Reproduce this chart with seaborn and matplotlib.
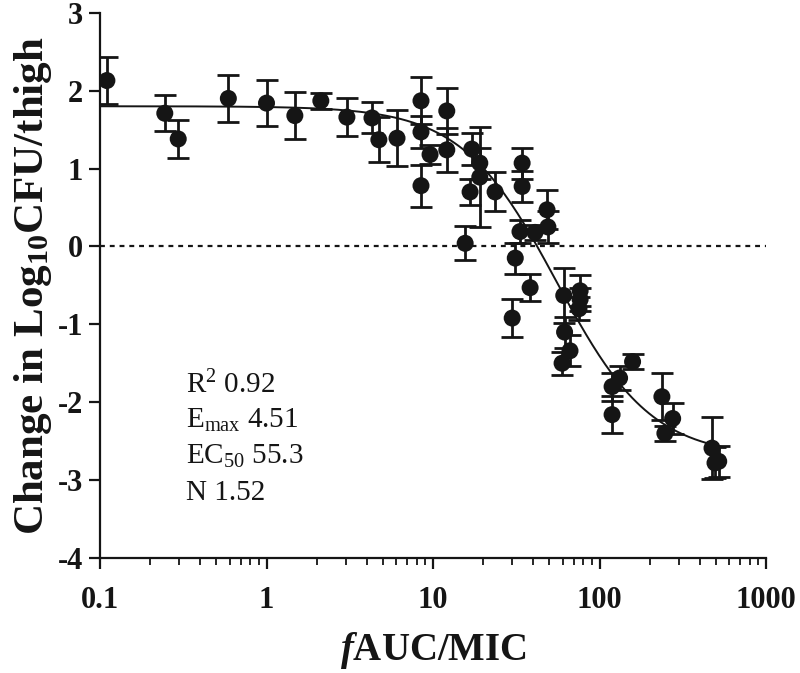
import numpy as np
import pandas as pd
import matplotlib
matplotlib.use('Agg')
import matplotlib.pyplot as plt
import seaborn as sns

# exposure (fAUC/MIC) and change in log10 CFU/thigh
fauc_mic = [0.11, 0.245, 0.295, 0.59, 1.0, 1.48, 2.12, 3.04, 4.3, 4.73,
            6.08, 8.47, 8.47, 8.47, 9.6, 12.1, 12.1, 15.6, 17.1, 16.7,
            19.1, 19.1, 23.6, 29.9, 31.2, 33.3, 34.3, 34.3, 38.3, 41,
            48.4, 49, 61, 61.7, 59.6, 66.5, 75.3, 76.5, 76.5, 119,
            132, 158, 119, 237, 247, 275, 474, 494, 520]
delta_cfu = [2.13, 1.71, 1.38, 1.90, 1.84, 1.68, 1.87, 1.66, 1.65, 1.37,
             1.39, 1.87, 1.47, 0.78, 1.18, 1.74, 1.24, 0.04, 1.25, 0.70,
             1.07, 0.89, 0.70, -0.92, -0.15, 0.19, 1.07, 0.77, -0.53, 0.18,
             0.47, 0.25, -0.63, -1.10, -1.50, -1.34, -0.80, -0.57, -0.68, -1.80,
             -1.69, -1.48, -2.16, -1.93, -2.40, -2.21, -2.59, -2.78, -2.76]
sd = [0.30, 0.23, 0.24, 0.30, 0.30, 0.30, 0.10, 0.24, 0.20, 0.29,
      0.36, 0.30, 0.20, 0.27, 0.12, 0.30, 0.28, 0.22, 0.20, 0.17,
      0.20, 0.64, 0.25, 0.24, 0.20, 0.15, 0.20, 0.20, 0.17, 0.10,
      0.25, 0.20, 0.35, 0.20, 0.15, 0.20, 0.15, 0.20, 0.15, 0.18,
      0.15, 0.10, 0.24, 0.30, 0.10, 0.20, 0.40, 0.20, 0.20]

# sigmoid Emax model parameters
e0 = 1.80
emax = 4.51
ec50 = 55.3
hill = 1.52

df = pd.DataFrame({'x': fauc_mic, 'y': delta_cfu, 'sd': sd})
xfit = np.logspace(-1, np.log10(560), 300)
fit = pd.DataFrame({'x': xfit,
                    'y': e0 - emax * xfit**hill / (ec50**hill + xfit**hill)})

sns.set_style('ticks')
plt.rcParams['font.family'] = ['Liberation Serif', 'DejaVu Serif']
plt.rcParams['axes.unicode_minus'] = False
plt.rcParams['mathtext.fontset'] = 'custom'
plt.rcParams['mathtext.rm'] = 'Liberation Serif'
plt.rcParams['mathtext.bf'] = 'Liberation Serif:bold'
plt.rcParams['mathtext.it'] = 'Liberation Serif:italic:bold'

ink = '#151515'
fig = plt.figure(figsize=(8, 6.73), dpi=100)
ax = fig.add_axes([0.125, 0.171, 0.8325, 0.81])

ax.axhline(0, color=ink, lw=1.6, ls=(0, (2.2, 2.2)), zorder=1)
ax.errorbar(df['x'], df['y'], yerr=df['sd'], fmt='none', ecolor=ink,
            elinewidth=2, capsize=8, capthick=2, zorder=2)
sns.lineplot(data=fit, x='x', y='y', color=ink, lw=1.4, ax=ax, zorder=3)
sns.scatterplot(data=df, x='x', y='y', color=ink, s=150, edgecolor='none',
                ax=ax, zorder=4)

ax.set_xscale('log')
ax.set_xlim(0.1, 1000)
ax.set_ylim(-4, 3)
ax.set_yticks(range(-4, 4))
ax.set_xticks([0.1, 1, 10, 100, 1000])
ax.set_xticklabels(['0.1', '1', '10', '100', '1000'])
sns.despine(ax=ax)
for s in ['left', 'bottom']:
    ax.spines[s].set_linewidth(1.6)
    ax.spines[s].set_color(ink)
ax.tick_params(which='major', length=8, width=1.6, color=ink, labelsize=22,
               labelcolor=ink)
ax.tick_params(axis='x', which='minor', length=5, width=1.3, color=ink)
ax.tick_params(axis='x', which='major', pad=12)
ax.tick_params(axis='y', which='major', pad=4)
for lab in ax.get_xticklabels() + ax.get_yticklabels():
    lab.set_fontweight('bold')

ax.set_xlabel(r'$\mathit{f}$AUC/MIC', fontsize=28, fontweight='bold',
              labelpad=11, color=ink)
ax.set_ylabel(r'Change in Log$_{\mathbf{10}}$CFU/thigh', fontsize=31,
              fontweight='bold', labelpad=3, color=ink)

stats = [r'R$^{2}$ 0.92', r'E$_{\mathrm{max}}$ 4.51',
         r'EC$_{50}$ 55.3', r'N 1.52']
for i, t in enumerate(stats):
    ax.text(0.129, 0.318 - i * 0.066, t, transform=ax.transAxes,
            fontsize=21, va='center', ha='left', color=ink)

plt.savefig('out.png', dpi=100)
